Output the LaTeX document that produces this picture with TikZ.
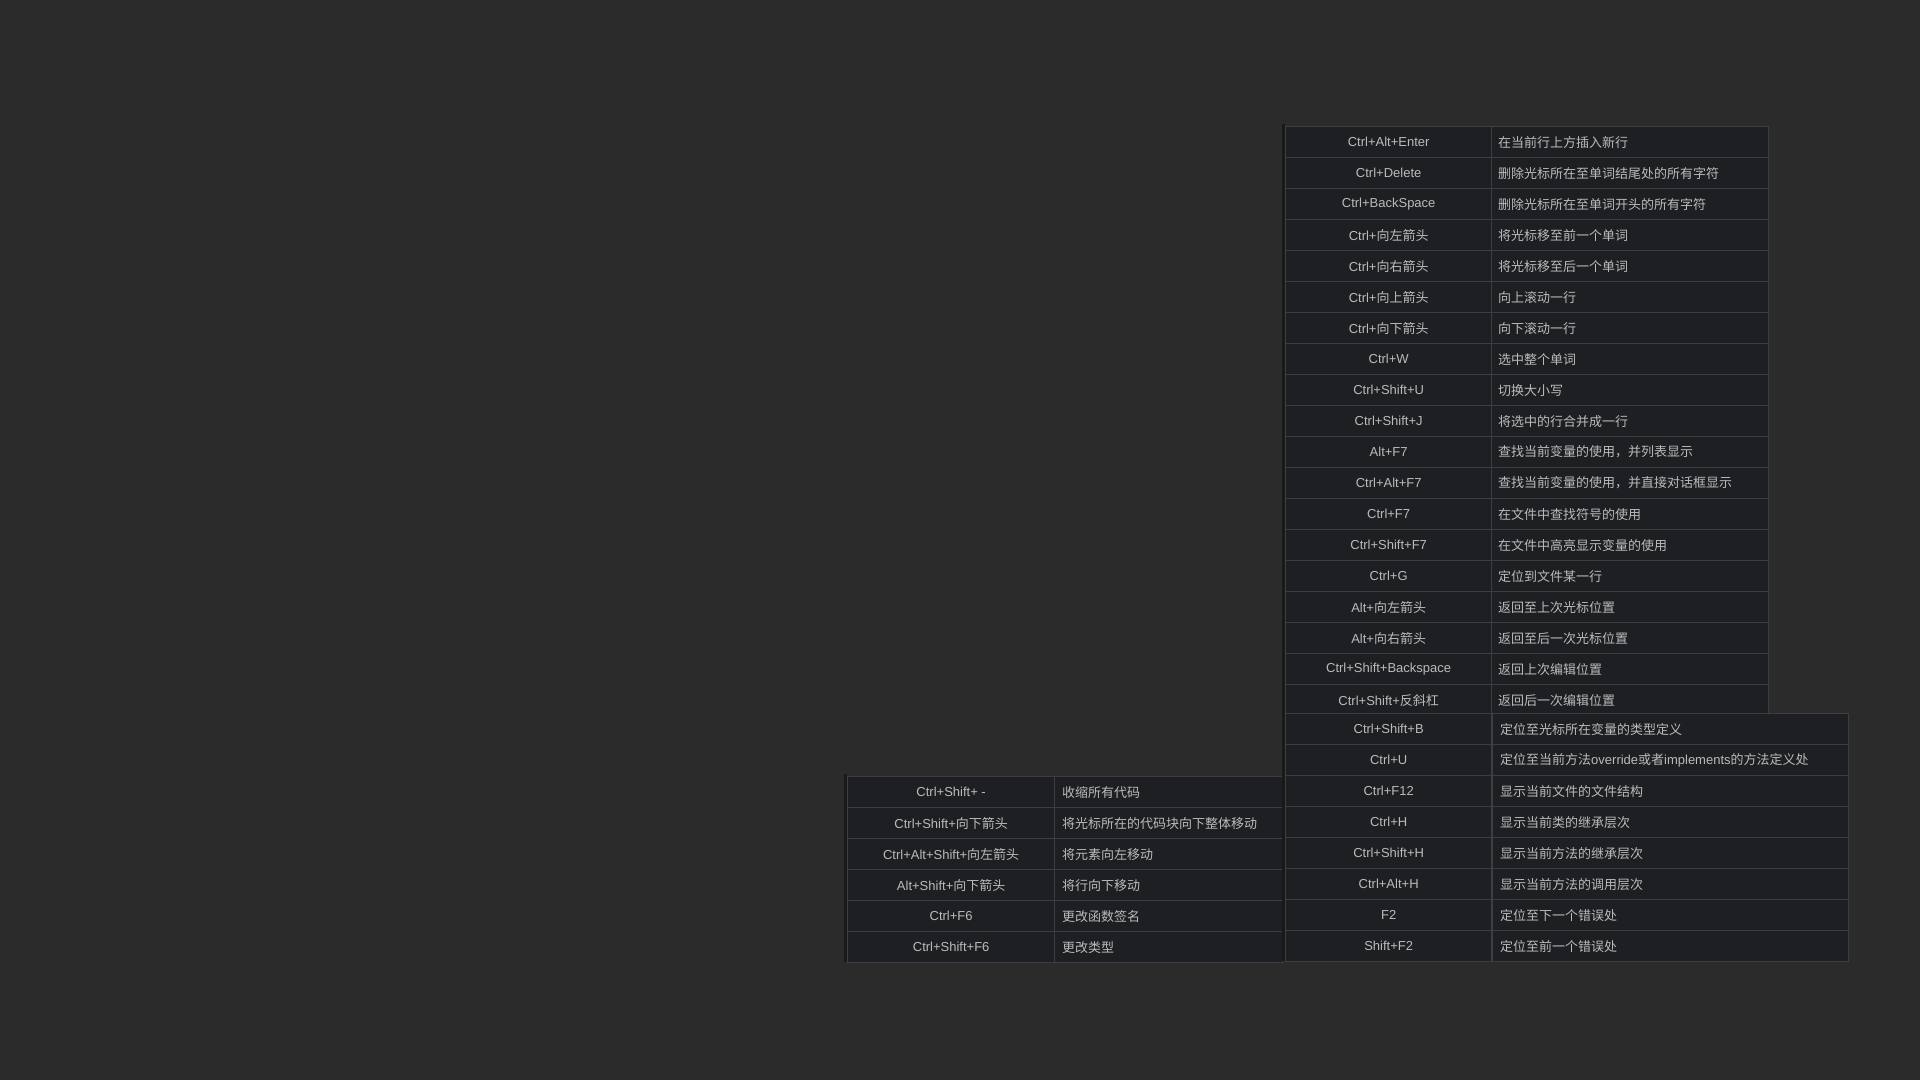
\documentclass[tikz,border=0pt]{standalone}
\usepackage{fontspec}
\setmainfont{Liberation Sans}
\newfontfamily\cjkfont{Noto Sans CJK SC}
\newcommand\zh[1]{{\cjkfont #1}}
\newcommand\lat[1]{{\rmfamily #1}}
\definecolor{bgcol}{HTML}{2B2B2B}
\definecolor{cellfill}{HTML}{1E1F22}
\definecolor{gridcol}{HTML}{3C3E41}
\definecolor{bandcol}{HTML}{19191A}
\definecolor{txtcol}{HTML}{BBBBBB}
\tikzset{
  cellbase/.style={draw=gridcol, line width=1.3pt, fill=cellfill, minimum height=31pt, inner sep=0pt, anchor=north west},
  keycell/.style={cellbase, text=txtcol, font=\fontsize{13pt}{15pt}\selectfont},
  desccell/.style={cellbase},
  desctext/.style={anchor=west, inner sep=0pt, text=txtcol, font=\fontsize{13pt}{15pt}\selectfont\cjkfont},
  band/.style={fill=bandcol, draw=none}
}
\begin{document}
\begin{tikzpicture}[x=1pt,y=-1pt]
\useasboundingbox (0,0) rectangle (1920,1080);
\fill[bgcol] (0,0) rectangle (1920,1080);
% left table
\fill[band] (844,774) rectangle (847,962);
\foreach \k/\d [count=\i from 0] in {
  Ctrl+Shift+ -/收缩所有代码,
  Ctrl+Shift+\zh{向下箭头}/将光标所在的代码块向下整体移动,
  Ctrl+Alt+Shift+\zh{向左箭头}/将元素向左移动,
  Alt+Shift+\zh{向下箭头}/将行向下移动,
  Ctrl+F6/更改函数签名,
  Ctrl+Shift+F6/更改类型}{
  \node[keycell, minimum width=207pt] (lk\i) at (847,776+31*\i) {\k};
  \node[desccell, minimum width=228pt] (ld\i) at (1054,776+31*\i) {};
  \node[desctext] (ldt\i) at ([xshift=8pt]ld\i.west) {\d};
}
% right upper table
\fill[band] (1282,124) rectangle (1285,961);
\foreach \k/\d [count=\i from 0] in {
  Ctrl+Alt+Enter/在当前行上方插入新行,
  Ctrl+Delete/删除光标所在至单词结尾处的所有字符,
  Ctrl+BackSpace/删除光标所在至单词开头的所有字符,
  Ctrl+\zh{向左箭头}/将光标移至前一个单词,
  Ctrl+\zh{向右箭头}/将光标移至后一个单词,
  Ctrl+\zh{向上箭头}/向上滚动一行,
  Ctrl+\zh{向下箭头}/向下滚动一行,
  Ctrl+W/选中整个单词,
  Ctrl+Shift+U/切换大小写,
  Ctrl+Shift+J/将选中的行合并成一行,
  Alt+F7/查找当前变量的使用，并列表显示,
  Ctrl+Alt+F7/查找当前变量的使用，并直接对话框显示,
  Ctrl+F7/在文件中查找符号的使用,
  Ctrl+Shift+F7/在文件中高亮显示变量的使用,
  Ctrl+G/定位到文件某一行,
  Alt+\zh{向左箭头}/返回至上次光标位置,
  Alt+\zh{向右箭头}/返回至后一次光标位置,
  Ctrl+Shift+Backspace/返回上次编辑位置,
  Ctrl+Shift+\zh{反斜杠}/返回后一次编辑位置}{
  \node[keycell, minimum width=206pt] (uk\i) at (1285,126+31*\i) {\k};
  \node[desccell, minimum width=277pt] (ud\i) at (1491,126+31*\i) {};
  \node[desctext] (udt\i) at ([xshift=7pt]ud\i.west) {\d};
}
% right lower table
\foreach \k/\d [count=\i from 0] in {
  Ctrl+Shift+B/定位至光标所在变量的类型定义,
  Ctrl+U/定位至当前方法\lat{override}或者\lat{implements}的方法定义处,
  Ctrl+F12/显示当前文件的文件结构,
  Ctrl+H/显示当前类的继承层次,
  Ctrl+Shift+H/显示当前方法的继承层次,
  Ctrl+Alt+H/显示当前方法的调用层次,
  F2/定位至下一个错误处,
  Shift+F2/定位至前一个错误处}{
  \node[keycell, minimum width=206pt] (bk\i) at (1285,713+31*\i) {\k};
  \node[desccell, minimum width=356pt] (bd\i) at (1492,713+31*\i) {};
  \node[desctext] (bdt\i) at ([xshift=8pt]bd\i.west) {\d};
}
\end{tikzpicture}
\end{document}
